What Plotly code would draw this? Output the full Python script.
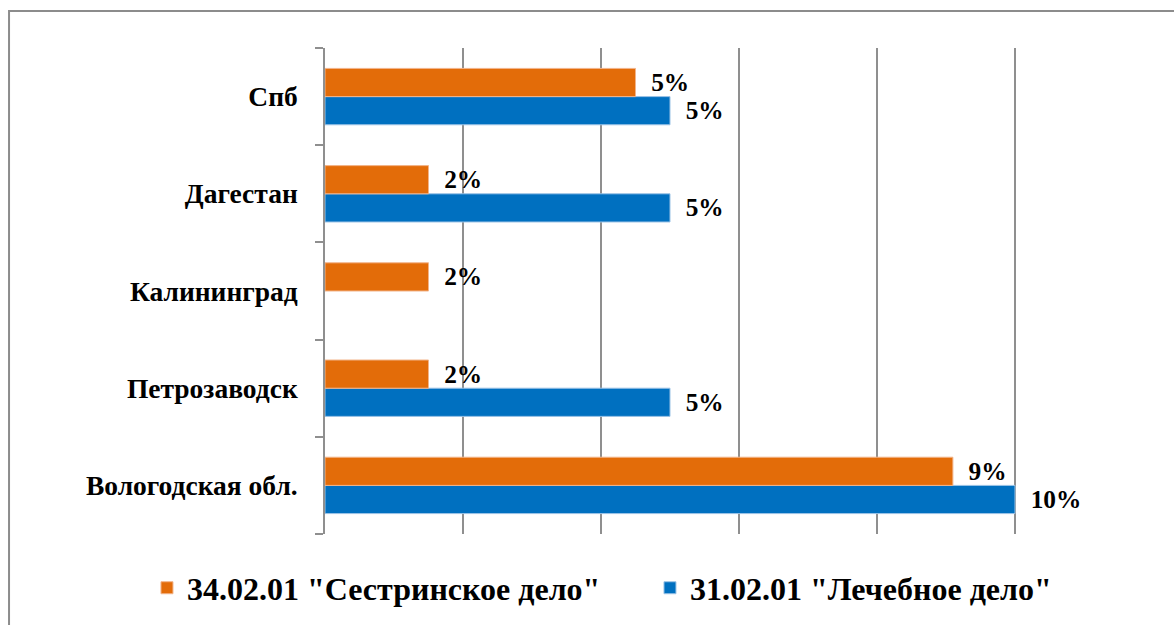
import plotly.graph_objects as go

categories = ["Вологодская обл.", "Петрозаводск", "Калининград", "Дагестан", "Спб"]
nursing_name = '34.02.01 "Сестринское дело"'
medical_name = '31.02.01 "Лечебное дело"'
nursing_values = [9.1, 1.5, 1.5, 1.5, 4.5]
medical_values = [10.0, 5.0, None, 5.0, 5.0]
nursing_labels = ["9%", "2%", "2%", "2%", "5%"]
medical_labels = ["10%", "5%", "", "5%", "5%"]

ORANGE = "#E36C09"
BLUE = "#0070C0"
FONT = "Liberation Serif"
PAD = "\u00a0\u00a0"

fig = go.Figure()
fig.add_trace(go.Bar(
    y=categories, x=medical_values, orientation="h", name=medical_name,
    marker=dict(color=BLUE, line=dict(color="#9cc3e6", width=1)),
    text=[PAD + t if t else "" for t in medical_labels], textposition="outside",
    textfont=dict(family=FONT, size=27, color="black", weight="bold"),
    cliponaxis=False, legendrank=2,
))
fig.add_trace(go.Bar(
    y=categories, x=nursing_values, orientation="h", name=nursing_name,
    marker=dict(color=ORANGE, line=dict(color="#f2b48a", width=1)),
    text=[PAD + t for t in nursing_labels], textposition="outside",
    textfont=dict(family=FONT, size=27, color="black", weight="bold"),
    cliponaxis=False, legendrank=1,
))

fig.update_layout(
    width=1174, height=625,
    margin=dict(l=325, r=21, t=48, b=91, autoexpand=False),
    paper_bgcolor="white", plot_bgcolor="white",
    barmode="group", bargap=0.42, bargroupgap=0,
    font=dict(family=FONT, color="black"),
    showlegend=True,
    legend=dict(orientation="h", x=-0.215, xanchor="left", y=-0.111, yanchor="middle",
                entrywidth=458, entrywidthmode="pixels",
                font=dict(family=FONT, size=32, color="black", weight="bold"),
                bgcolor="rgba(0,0,0,0)"),
    shapes=[dict(type="rect", xref="paper", yref="paper",
                 x0=-0.3816, y0=-0.5, x1=1.2, y1=1.076,
                 line=dict(color="#8c8c8c", width=2), fillcolor="rgba(0,0,0,0)", layer="below")],
)
fig.update_xaxes(range=[0, 12], dtick=2, showticklabels=False, showgrid=True,
                 gridcolor="#8f8f8f", gridwidth=1.5, zeroline=False, showline=False)
fig.update_yaxes(type="category", categoryorder="array", categoryarray=categories,
                 showline=True, linecolor="#8f8f8f", linewidth=1.5,
                 ticks="outside", tickson="boundaries", ticklen=8, tickcolor="#8f8f8f", tickwidth=1.5,
                 ticklabelstandoff=20,
                 tickfont=dict(family=FONT, size=27.5, color="black", weight="bold"),
                 showgrid=False, zeroline=False)

fig.write_html("out.html", config={"displayModeBar": False},
               post_script="document.body.style.margin='0';")
